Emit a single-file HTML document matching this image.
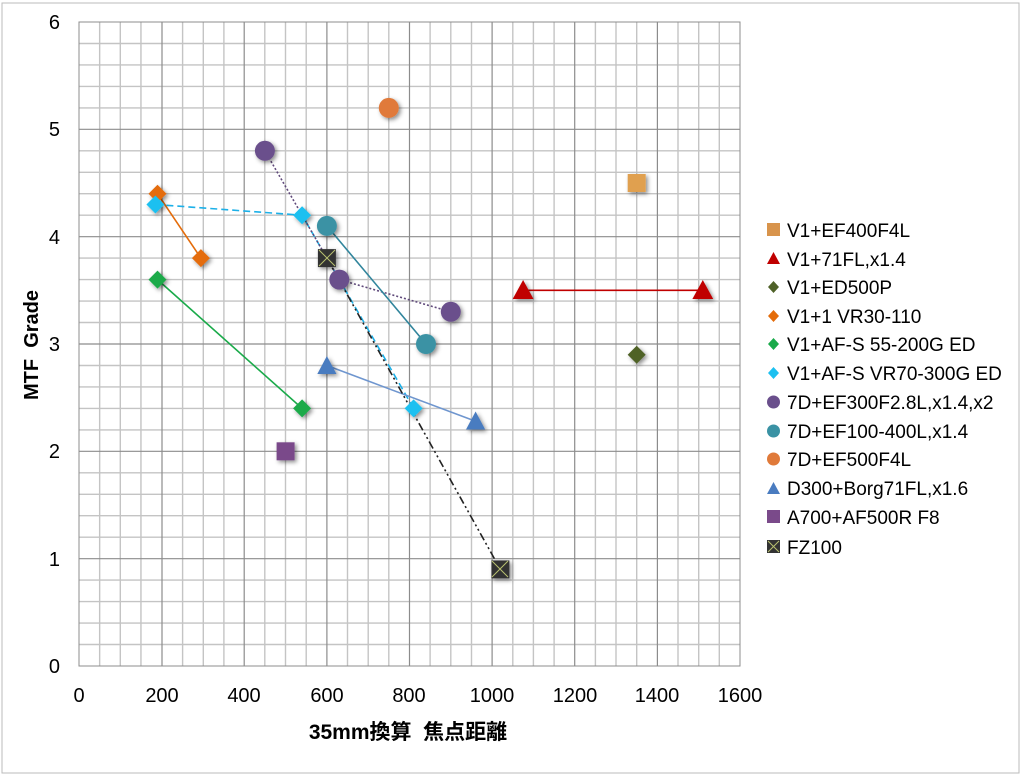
<!DOCTYPE html>
<html><head><meta charset="utf-8"><style>
body{margin:0;background:#fff;}
svg{display:block;font-family:"Liberation Sans","Noto Sans CJK JP",sans-serif;}
</style></head><body>
<svg width="1024" height="777" viewBox="0 0 1024 777">
<defs>
<filter id="sh" x="-50%" y="-50%" width="200%" height="200%"><feDropShadow dx="2" dy="2" stdDeviation="2" flood-color="#000" flood-opacity="0.45"/></filter>
</defs>
<rect x="0" y="0" width="1024" height="777" fill="#fff"/>
<rect x="2" y="3" width="1017" height="770" fill="#fff" stroke="#bbb"/>
<g stroke="#c4c4c4" stroke-width="1.4">
<path d="M99.65 22V666M120.3 22V666M140.95 22V666M182.6 22V666M203.3 22V666M223.9 22V666M264.8 22V666M285.5 22V666M306.2 22V666M347.5 22V666M368.2 22V666M388.8 22V666M430.1 22V666M450.8 22V666M471.5 22V666M512.8 22V666M533.4 22V666M554.1 22V666M595.4 22V666M616 22V666M636.7 22V666M678 22V666M698.7 22V666M719.3 22V666"/>
<path d="M79 43.5H740M79 64.9H740M79 86.4H740M79 107.9H740M79 150.8H740M79 172.3H740M79 193.7H740M79 215.2H740M79 258.1H740M79 279.6H740M79 301.1H740M79 322.5H740M79 365.5H740M79 386.9H740M79 408.4H740M79 429.9H740M79 472.8H740M79 494.3H740M79 515.7H740M79 537.2H740M79 580.1H740M79 601.6H740M79 623.1H740M79 644.5H740"/>
</g>
<g stroke="#8c8c8c" stroke-width="1.2">
<line x1="162" y1="22" x2="162" y2="666"/><line x1="244.2" y1="22" x2="244.2" y2="666"/>
<line x1="326.9" y1="22" x2="326.9" y2="666"/><line x1="409.5" y1="22" x2="409.5" y2="666"/>
<line x1="492.1" y1="22" x2="492.1" y2="666"/><line x1="574.7" y1="22" x2="574.7" y2="666"/>
<line x1="657.4" y1="22" x2="657.4" y2="666"/>
<line x1="79" y1="129.3" x2="740" y2="129.3"/><line x1="79" y1="236.7" x2="740" y2="236.7"/>
<line x1="79" y1="344" x2="740" y2="344"/><line x1="79" y1="451.3" x2="740" y2="451.3"/>
<line x1="79" y1="558.7" x2="740" y2="558.7"/>
</g>
<rect x="79" y="22" width="661" height="644" fill="none" stroke="#8c8c8c"/>
<g font-size="20" fill="#000" text-anchor="end">
<text x="60" y="29">6</text><text x="60" y="136">5</text><text x="60" y="244">4</text>
<text x="60" y="351">3</text><text x="60" y="458">2</text><text x="60" y="566">1</text><text x="60" y="673">0</text>
</g>
<g font-size="20" fill="#000" text-anchor="middle">
<text x="79" y="702">0</text><text x="162" y="702">200</text><text x="244" y="702">400</text>
<text x="327" y="702">600</text><text x="409" y="702">800</text><text x="492" y="702">1000</text>
<text x="575" y="702">1200</text><text x="657" y="702">1400</text><text x="740" y="702">1600</text>
</g>
<text x="408" y="739" font-size="21" font-weight="bold" text-anchor="middle" xml:space="preserve">35mm換算  焦点距離</text>
<text transform="translate(38,345) rotate(-90)" font-size="20" font-weight="bold" text-anchor="middle" xml:space="preserve">MTF  Grade</text>
<g fill="none" stroke-width="1.6">
<line x1="523.1" y1="290.3" x2="702.8" y2="290.3" stroke="#c00000"/>
<line x1="157.5" y1="193.7" x2="200.9" y2="258.1" stroke="#e46c0a"/>
<line x1="157.5" y1="279.6" x2="302.1" y2="408.4" stroke="#1aaa4a"/>
<polyline points="155.4,204.5 302.1,215.2 413.6,408.4" stroke="#1cb0e8" stroke-dasharray="7,4"/>
<polyline points="264.9,150.8 339.3,279.6 450.8,311.8" stroke="#604a7b" stroke-dasharray="2,2"/>
<line x1="326.9" y1="225.9" x2="426" y2="344" stroke="#31859c"/>
<line x1="326.9" y1="365.5" x2="475.6" y2="421.3" stroke="#6f96cf"/>
<line x1="326.9" y1="258.1" x2="500.4" y2="569.4" stroke="#222" stroke-dasharray="8,3,2,3,2,3"/>
</g>
<g filter="url(#sh)">
<rect x="627.7" y="174" width="18" height="18" fill="#e0a050"/>
<polygon points="523.1,280 533.5,299 512.7,299" fill="#c00000"/>
<polygon points="702.8,280 713.2,299 692.4,299" fill="#c00000"/>
<polygon points="636.7,345.7 645.7,354.7 636.7,363.7 627.7,354.7" fill="#4f6228"/>
<polygon points="157.5,184.7 166.5,193.7 157.5,202.7 148.5,193.7" fill="#e46c0a"/>
<polygon points="200.9,249.1 209.9,258.1 200.9,267.1 191.9,258.1" fill="#e46c0a"/>
<polygon points="157.5,270.6 166.5,279.6 157.5,288.6 148.5,279.6" fill="#1aaa4a"/>
<polygon points="302.1,399.4 311.1,408.4 302.1,417.4 293.1,408.4" fill="#1aaa4a"/>
<polygon points="155.4,195.5 164.4,204.5 155.4,213.5 146.4,204.5" fill="#1cc0f0"/>
<polygon points="302.1,206.2 311.1,215.2 302.1,224.2 293.1,215.2" fill="#1cc0f0"/>
<polygon points="413.6,399.4 422.6,408.4 413.6,417.4 404.6,408.4" fill="#1cc0f0"/>
<circle cx="264.9" cy="150.8" r="10" fill="#6a4f8c"/>
<circle cx="339.3" cy="279.6" r="10" fill="#6a4f8c"/>
<circle cx="450.8" cy="311.8" r="10" fill="#6a4f8c"/>
<circle cx="326.9" cy="225.9" r="10" fill="#3a92a4"/>
<circle cx="426" cy="344" r="10" fill="#3a92a4"/>
<circle cx="388.8" cy="107.9" r="10" fill="#e07a3a"/>
<polygon points="326.9,356 336.5,374 317.3,374" fill="#4a7cc0"/>
<polygon points="475.6,411.5 485.2,429.5 466,429.5" fill="#4a7cc0"/>
<rect x="276.6" y="442.3" width="18" height="18" fill="#7a4a8a"/>
<rect x="317.9" y="249.1" width="18" height="18" fill="#333"/>
<rect x="491.4" y="560.4" width="18" height="18" fill="#333"/>
</g>
<g stroke="#b8c070" stroke-width="1"><path d="M319 250l16 16M335 250l-16 16M492 561l16 16M508 561l-16 16"/></g>
<g font-size="19" fill="#000">
<rect x="767" y="223" width="13" height="13" fill="#d8944c"/><text x="787" y="237">V1+EF400F4L</text>
<polygon points="773.5,252 780,264 767,264" fill="#c00000"/><text x="787" y="266">V1+71FL,x1.4</text>
<polygon points="773.5,281 779,287 773.5,293 768,287" fill="#4f6228"/><text x="787" y="294">V1+ED500P</text>
<polygon points="773.5,310 779,316 773.5,322 768,316" fill="#e46c0a"/><text x="787" y="323">V1+1 VR30-110</text>
<polygon points="773.5,338 779,344 773.5,350 768,344" fill="#1aaa4a"/><text x="787" y="351">V1+AF-S 55-200G ED</text>
<polygon points="773.5,367 779,373 773.5,379 768,373" fill="#1cc0f0"/><text x="787" y="380">V1+AF-S VR70-300G ED</text>
<circle cx="773.5" cy="402" r="6.5" fill="#6a4f8c"/><text x="787" y="409">7D+EF300F2.8L,x1.4,x2</text>
<circle cx="773.5" cy="431" r="6.5" fill="#3a92a4"/><text x="787" y="438">7D+EF100-400L,x1.4</text>
<circle cx="773.5" cy="459" r="6.5" fill="#e07a3a"/><text x="787" y="466">7D+EF500F4L</text>
<polygon points="773.5,482 780,494 767,494" fill="#4a7cc0"/><text x="787" y="495">D300+Borg71FL,x1.6</text>
<rect x="767" y="510" width="13" height="13" fill="#7a4a8a"/><text x="787" y="524">A700+AF500R F8</text>
<rect x="767" y="540" width="13" height="13" fill="#333"/><path d="M768 541l11 11M779 541l-11 11" stroke="#b8c070"/><text x="787" y="554">FZ100</text>
</g>
</svg>
</body></html>
